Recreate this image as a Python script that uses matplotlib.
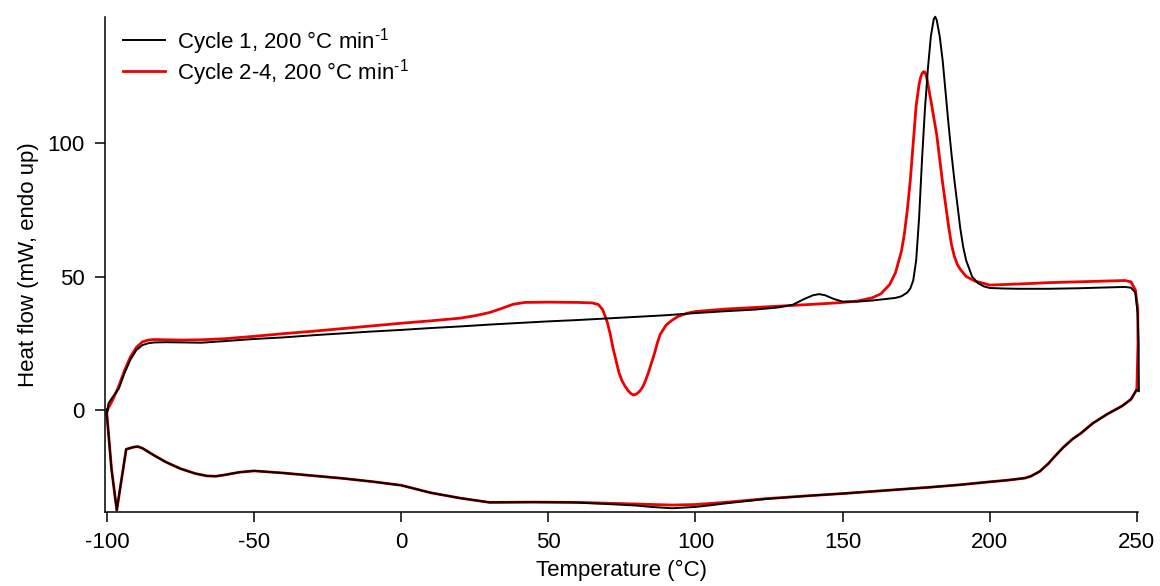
import matplotlib
matplotlib.use("Agg")
import matplotlib.pyplot as plt

plt.rcParams['font.family'] = ['Liberation Sans', 'DejaVu Sans']
plt.rcParams['mathtext.fontset'] = 'custom'
plt.rcParams['mathtext.rm'] = 'Liberation Sans'
plt.rcParams['mathtext.it'] = 'Liberation Sans'
plt.rcParams['axes.unicode_minus'] = False
plt.rcParams['font.size'] = 16

# Cycle 1 - heating
t_heat_c1 = [-99.9, -99.5, -98.0, -96.0, -94.0, -92.0, -90.0, -88.0, -86.0, -84.0, -80.0,
             -75, -68, -60, -50, -40, -30, -20, -10, 0, 10, 20, 30, 40, 50, 60, 70, 80,
             90, 100, 110, 120, 128, 133, 137, 140, 142, 144, 147, 150, 155, 160, 165,
             168, 170, 172, 173, 174, 175, 176, 177, 178, 179, 180, 181, 181.5, 182, 183,
             184, 185, 186, 187, 188, 189, 190, 191, 192, 194, 196, 198, 200, 205, 210,
             220, 230, 240, 246, 248, 249.5, 250.3, 250.6, 250.7]
hf_heat_c1 = [0, 2.5, 5, 8, 14, 19, 22.5, 24.3, 25.0, 25.3, 25.4,
              25.3, 25.2, 25.8, 26.6, 27.2, 28.0, 28.7, 29.4, 30.0, 30.7, 31.3, 32.0, 32.6,
              33.2, 33.7, 34.3, 34.9, 35.5, 36.3, 37.0, 37.6, 38.4, 39.4, 41.6, 43.0, 43.4,
              43.0, 41.6, 40.6, 40.6, 41.0, 41.6, 42.0, 42.6, 44.0, 45.5, 48.5, 56, 72, 94,
              113, 128, 140, 146.5, 147.3, 146, 140, 131, 119, 107, 96, 86, 77, 68, 61, 56,
              50, 47.5, 46.3, 45.7, 45.5, 45.4, 45.4, 45.6, 45.9, 46.1, 45.8, 44, 36, 24, 7]

# Cycle 1 - cooling
t_cool_c1 = [249.9, 248, 245, 240, 235, 231, 228, 225, 222, 220, 217, 214, 212, 206, 200,
             190, 180, 170, 160, 150, 140, 124, 120, 110, 105, 100, 92, 85, 80, 70, 60,
             58, 45, 30, 20, 10, 0, -10, -20, -30, -40, -50, -55, -60, -63, -66, -70, -75,
             -80, -84, -88, -89.5, -91, -93.5, -96.7, -98.5, -100.1, -99.9]
hf_cool_c1 = [7.5, 4, 1.5, -1.5, -5, -8.7, -11, -14, -17.5, -20, -23, -24.8, -25.5, -26.3,
              -26.9, -28, -28.9, -29.7, -30.5, -31.3, -32, -33.3, -33.8, -35, -35.7, -36.3,
              -36.8, -36.3, -35.8, -35.2, -34.7, -34.6, -34.5, -34.6, -33, -31, -28.2,
              -26.8, -25.6, -24.6, -23.6, -22.8, -23.3, -24.3, -24.8, -24.7, -23.8, -22,
              -19.5, -17, -14.3, -13.7, -13.9, -14.7, -37.5, -22, -1.2, 0]

# Cycle 2-4 - heating
t_heat_c2 = [-99.9, -98, -96, -94, -92, -90, -88, -86, -84, -80, -75, -68, -60, -50, -40,
             -30, -20, -10, 0, 10, 20, 25, 30, 34, 38, 42, 50, 60, 65, 67, 68.5, 69, 70, 71,
             72, 73, 74, 75, 76, 77, 78, 79, 80, 81, 82, 83, 84, 85, 86, 87, 88, 90, 92, 94,
             97, 100, 110, 122, 130, 140, 149, 155, 160, 163, 166, 168, 170, 171, 172, 173,
             174, 175, 176, 176.5, 177, 177.5, 178, 178.5, 179, 180, 181, 182, 183, 184,
             185, 186, 187, 188, 189, 190, 192, 195, 200, 210, 220, 230, 240, 246, 248,
             249.5, 250.3, 250.4, 250.0]
hf_heat_c2 = [0, 4, 9, 15, 20, 23.5, 25.5, 26.2, 26.4, 26.3, 26.2, 26.3, 26.7, 27.6, 28.6,
              29.5, 30.5, 31.5, 32.5, 33.4, 34.4, 35.3, 36.5, 38.0, 39.6, 40.3, 40.4, 40.3,
              40.1, 39.5, 37.5, 36, 33, 28.5, 23, 18.5, 14, 11, 9, 7.4, 6.2, 5.6, 6.0, 7.0,
              8.5, 11, 14, 17.5, 21, 25, 28.3, 31.8, 33.6, 35, 36.2, 36.9, 37.8, 38.5, 39.0,
              39.6, 40.2, 40.8, 42, 43.5, 47, 51.5, 59.5, 66, 75, 86, 100, 114, 122, 124.5,
              126, 126.7, 126.5, 125, 122, 116, 109.5, 103, 94, 85, 77, 69, 62, 57.5, 54.5,
              52.7, 50, 48.3, 46.8, 47.2, 47.7, 48.0, 48.3, 48.5, 48.0, 45, 38, 25, 7.5]

# Cycle 2-4 - cooling
t_cool_c2 = [249.9, 248, 245, 240, 235, 231, 228, 225, 222, 220, 217, 214, 212, 206, 200,
             190, 180, 170, 160, 150, 140, 124, 120, 110, 100, 92, 80, 70, 60, 58, 45, 30,
             20, 10, 0, -10, -20, -30, -40, -50, -55, -60, -63, -66, -70, -75, -80, -84,
             -88, -89.5, -91, -93.5, -96.7, -98.5, -100.1, -99.9]
hf_cool_c2 = [7.5, 4, 1.5, -1.5, -5, -8.7, -11, -14, -17.5, -20, -23, -24.8, -25.5, -26.3,
              -26.9, -28, -28.9, -29.7, -30.5, -31.3, -32, -33.2, -33.6, -34.6, -35.4,
              -35.6, -35.2, -34.9, -34.6, -34.6, -34.5, -34.6, -33, -31, -28.2, -26.8,
              -25.6, -24.6, -23.6, -22.8, -23.3, -24.3, -24.8, -24.7, -23.8, -22, -19.5,
              -17, -14.3, -13.7, -13.9, -14.7, -37.5, -22, -1.2, 0]

fig = plt.figure(figsize=(11.6, 5.86), dpi=100)
ax = fig.add_axes([105 / 1160, 74 / 586, 1033 / 1160, 495 / 586])

ax.plot(t_heat_c1 + t_cool_c1, hf_heat_c1 + hf_cool_c1, color='black', lw=1.4,
        zorder=3, clip_on=False, label=r'Cycle 1, 200 °C min$^{\text{-1}}$')
ax.plot(t_heat_c2 + t_cool_c2, hf_heat_c2 + hf_cool_c2, color='#ee0000', lw=2.0,
        zorder=2, clip_on=False, label=r'Cycle 2-4, 200 °C min$^{\text{-1}}$')

ax.set_xlim(-100.7, 250.4)
ax.set_ylim(-38.2, 147.2)
ax.set_xticks([-100, -50, 0, 50, 100, 150, 200, 250])
ax.set_yticks([0, 50, 100])
ax.set_xlabel('Temperature (°C)', labelpad=5)
ax.set_ylabel('Heat flow (mW, endo up)', labelpad=6)

for s in ['top', 'right']:
    ax.spines[s].set_visible(False)
for s in ['left', 'bottom']:
    ax.spines[s].set_linewidth(1.1)
ax.tick_params(direction='out', length=7.5, width=1.1, labelsize=16, pad=7)

ax.legend(loc='upper left', bbox_to_anchor=(0, 1 + 9 / 495), frameon=False,
          fontsize=16, handlelength=1.9, handletextpad=0.55, labelspacing=0.0,
          borderaxespad=0.4)

fig.savefig('out.png', dpi=100)
